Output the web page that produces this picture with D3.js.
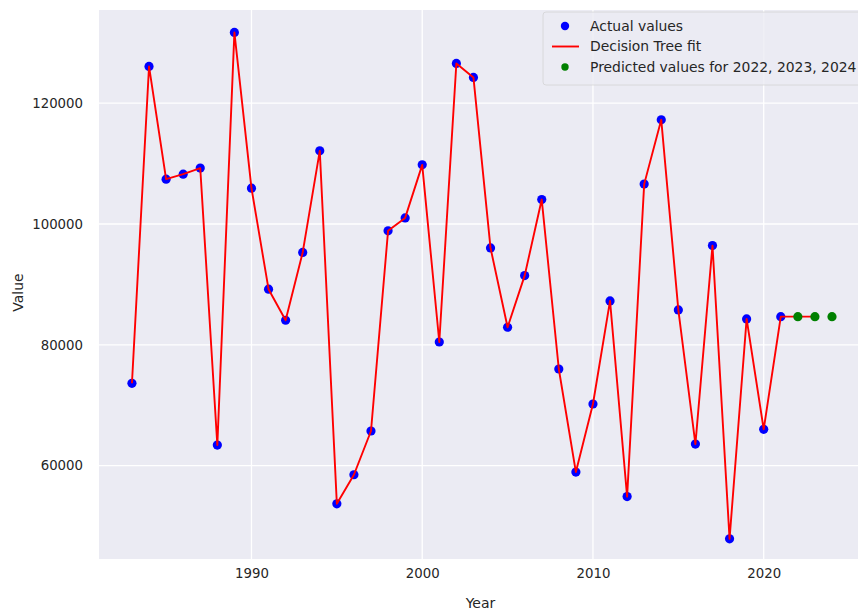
<!DOCTYPE html>
<html>
<head>
<meta charset="utf-8">
<script src="https://cdn.jsdelivr.net/npm/d3@7/dist/d3.min.js"></script>
<style>
  html, body { margin: 0; padding: 0; background: #ffffff; }
  svg { display: block; font-family: "DejaVu Sans", sans-serif; }
</style>
</head>
<body>
<svg id="chart" width="858" height="614"></svg>
<script>
// Observed yearly values
const years = [1983, 1984, 1985, 1986, 1987, 1988, 1989, 1990, 1991, 1992,
               1993, 1994, 1995, 1996, 1997, 1998, 1999, 2000, 2001, 2002,
               2003, 2004, 2005, 2006, 2007, 2008, 2009, 2010, 2011, 2012,
               2013, 2014, 2015, 2016, 2017, 2018, 2019, 2020, 2021];
const actualValues = [73620, 126080, 107420, 108250, 109250, 63400, 131720, 105930, 89200, 84060,
                      95290, 112110, 53670, 58480, 65720, 98860, 101010, 109790, 80460, 126580,
                      124260, 96040, 82900, 91450, 104040, 75990, 58920, 70190, 87260, 54860,
                      106600, 117250, 85770, 63560, 96420, 47870, 84280, 66000, 84660];

// Decision tree fit evaluated on 1983..2023
const fitYears = [1983, 1984, 1985, 1986, 1987, 1988, 1989, 1990, 1991, 1992,
                  1993, 1994, 1995, 1996, 1997, 1998, 1999, 2000, 2001, 2002,
                  2003, 2004, 2005, 2006, 2007, 2008, 2009, 2010, 2011, 2012,
                  2013, 2014, 2015, 2016, 2017, 2018, 2019, 2020, 2021, 2022, 2023];
const fitValues = [73620, 126080, 107420, 108250, 109250, 63400, 131720, 105930, 89200, 84060,
                   95290, 112110, 53670, 58480, 65720, 98860, 101010, 109790, 80460, 126580,
                   124260, 96040, 82900, 91450, 104040, 75990, 58920, 70190, 87260, 54860,
                   106600, 117250, 85770, 63560, 96420, 47870, 84280, 66000, 84660, 84660, 84660];

// Forecast
const predYears = [2022, 2023, 2024];
const predValues = [84660, 84660, 84660];

// Axis ticks
const xTicks = [1990, 2000, 2010, 2020];
const yTicks = [60000, 80000, 100000, 120000];

const legendLabels = ["Actual values", "Decision Tree fit", "Predicted values for 2022, 2023, 2024"];

const svg = d3.select("#chart");
const plot = { left: 99, top: 10, right: 867, bottom: 559 };

const x = d3.scaleLinear().domain([1981.07, 2026.05]).range([plot.left, plot.right]);
const y = d3.scaleLinear().domain([44530, 135430]).range([plot.bottom, plot.top]);

// Plot background
svg.append("rect")
  .attr("x", plot.left).attr("y", plot.top)
  .attr("width", plot.right - plot.left).attr("height", plot.bottom - plot.top)
  .attr("fill", "#ebebf3");

// Grid lines
const grid = svg.append("g");
grid.selectAll("line.gx").data(xTicks).join("line")
  .attr("x1", d => x(d)).attr("x2", d => x(d))
  .attr("y1", plot.top).attr("y2", plot.bottom)
  .attr("stroke", "#ffffff").attr("stroke-width", 1.3);
grid.selectAll("line.gy").data(yTicks).join("line")
  .attr("x1", plot.left).attr("x2", plot.right)
  .attr("y1", d => y(d)).attr("y2", d => y(d))
  .attr("stroke", "#ffffff").attr("stroke-width", 1.3);

// Axes (tick labels only, seaborn style)
const xAxis = svg.append("g")
  .attr("transform", `translate(0,${plot.bottom})`)
  .call(d3.axisBottom(x).tickValues(xTicks).tickFormat(d3.format("d")).tickSize(0).tickPadding(10));
const yAxis = svg.append("g")
  .attr("transform", `translate(${plot.left},0)`)
  .call(d3.axisLeft(y).tickValues(yTicks).tickFormat(d3.format("d")).tickSize(0).tickPadding(16));
[xAxis, yAxis].forEach(a => {
  a.select(".domain").remove();
  a.selectAll("text").attr("fill", "#262626").attr("font-size", 13.3)
    .attr("font-family", "DejaVu Sans, sans-serif");
});

// Axis titles
svg.append("text")
  .attr("x", (plot.left + 858) / 2 + 2).attr("y", 608)
  .attr("text-anchor", "middle").attr("font-size", 14).attr("fill", "#262626")
  .text("Year");
svg.append("text")
  .attr("transform", `translate(23,${(plot.top + plot.bottom) / 2 + 8}) rotate(-90)`)
  .attr("text-anchor", "middle").attr("font-size", 14).attr("fill", "#262626")
  .text("Value");

// Actual values
svg.append("g").selectAll("circle").data(years).join("circle")
  .attr("cx", d => x(d)).attr("cy", (d, i) => y(actualValues[i]))
  .attr("r", 4.6).attr("fill", "#0000ff");

// Decision tree fit
const line = d3.line().x(d => x(d[0])).y(d => y(d[1]));
svg.append("path")
  .datum(fitYears.map((d, i) => [d, fitValues[i]]))
  .attr("d", line).attr("fill", "none")
  .attr("stroke", "#ff0000").attr("stroke-width", 1.9).attr("stroke-linejoin", "round");

// Predictions
svg.append("g").selectAll("circle").data(predYears).join("circle")
  .attr("cx", d => x(d)).attr("cy", (d, i) => y(predValues[i]))
  .attr("r", 4.6).attr("fill", "#008000");

// Legend
const lg = svg.append("g").attr("transform", "translate(543,12)");
lg.append("rect")
  .attr("x", 0).attr("y", 0).attr("width", 330).attr("height", 73).attr("rx", 3)
  .attr("fill", "#ebebf3").attr("fill-opacity", 0.8)
  .attr("stroke", "#cccccc").attr("stroke-opacity", 0.6);
const rows = lg.selectAll("g.row").data(legendLabels).join("g")
  .attr("transform", (d, i) => `translate(0,${14 + i * 20.5})`);
rows.append("text")
  .attr("x", 47).attr("y", 0).attr("dy", "0.35em")
  .attr("font-size", 13.9).attr("fill", "#262626")
  .text(d => d);
rows.filter((d, i) => i === 0).append("circle")
  .attr("cx", 22).attr("cy", 0).attr("r", 4.2).attr("fill", "#0000ff");
rows.filter((d, i) => i === 1).append("line")
  .attr("x1", 9).attr("x2", 36).attr("y1", 0).attr("y2", 0)
  .attr("stroke", "#ff0000").attr("stroke-width", 1.9);
rows.filter((d, i) => i === 2).append("circle")
  .attr("cx", 22).attr("cy", 0).attr("r", 3.7).attr("fill", "#008000");
</script>
</body>
</html>
